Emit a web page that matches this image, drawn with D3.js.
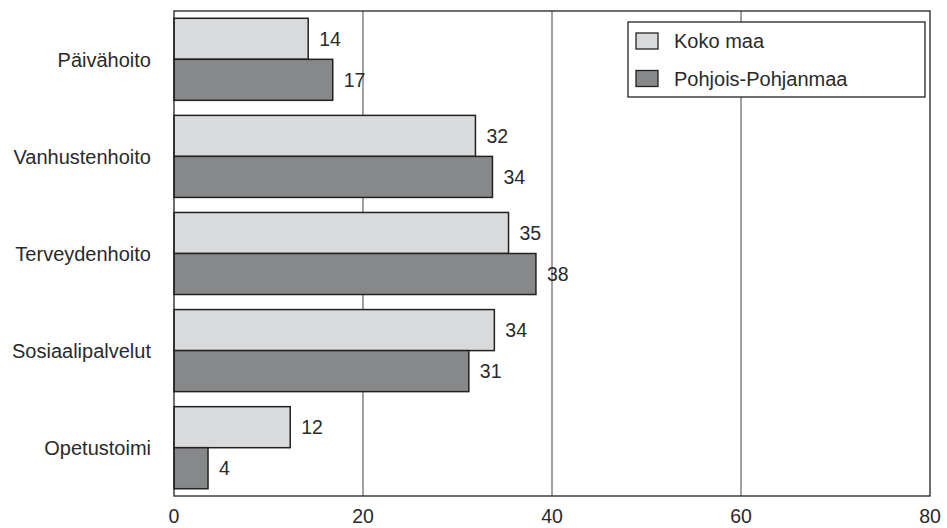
<!DOCTYPE html>
<html><head><meta charset="utf-8">
<script src="https://cdn.jsdelivr.net/npm/d3@7"></script>
<style>body{margin:0;background:#fff}svg{display:block;font-family:"Liberation Sans",Arial,sans-serif}</style>
</head><body>
<svg id="c" width="947" height="528"></svg>
<script>
const categories = ["Päivähoito","Vanhustenhoito","Terveydenhoito","Sosiaalipalvelut","Opetustoimi"];
const seriesNames = ["Koko maa","Pohjois-Pohjanmaa"];
const kokoMaa = [14.2,31.9,35.4,33.9,12.3];
const pohjois = [16.8,33.7,38.3,31.2,3.6];
const xTicks = [0,20,40,60,80];
const colors = ["#d9dadc","#87888a"];

const svg = d3.select("#c");
const m = {l:174, r:930, t:11, b:496};
const x = d3.scaleLinear().domain([0,80]).range([m.l,m.r]);
const y = d3.scaleBand().domain(categories).range([m.t,m.b]).paddingInner(0.155).paddingOuter(0.075);
const ys = d3.scaleBand().domain(seriesNames).range([0,y.bandwidth()]);

// grid
svg.append("g").selectAll("line").data(xTicks.filter(d=>d>0&&d<80)).join("line")
  .attr("x1",d=>x(d)).attr("x2",d=>x(d)).attr("y1",m.t).attr("y2",m.b)
  .attr("stroke","#444").attr("stroke-width",1);

const data = [];
categories.forEach((c,i)=>{
  data.push({c, s:seriesNames[0], v:kokoMaa[i], col:colors[0]});
  data.push({c, s:seriesNames[1], v:pohjois[i], col:colors[1]});
});

svg.append("g").selectAll("rect").data(data).join("rect")
  .attr("x",x(0)).attr("y",d=>y(d.c)+ys(d.s))
  .attr("width",d=>x(d.v)-x(0)).attr("height",ys.bandwidth())
  .attr("fill",d=>d.col).attr("stroke","#222").attr("stroke-width",1.5);

svg.append("g").selectAll("text").data(data).join("text")
  .attr("x",d=>x(d.v)+11).attr("y",d=>y(d.c)+ys(d.s)+ys.bandwidth()/2)
  .attr("dy","0.36em").attr("font-size",19.5).attr("fill","#2a2a2a")
  .text(d=>d3.format(".0f")(d.v));

// frame
svg.append("rect").attr("x",m.l).attr("y",m.t).attr("width",m.r-m.l).attr("height",m.b-m.t)
  .attr("fill","none").attr("stroke","#222").attr("stroke-width",1.3);

// x axis labels
svg.append("g").selectAll("text").data(xTicks).join("text")
  .attr("x",d=>x(d)).attr("y",523).attr("text-anchor","middle")
  .attr("font-size",19.5).attr("fill","#2a2a2a").text(d=>d);

// category labels
svg.append("g").selectAll("text").data(categories).join("text")
  .attr("x",151).attr("y",d=>y(d)+y.bandwidth()/2).attr("dy","0.36em")
  .attr("text-anchor","end").attr("font-size",20).attr("fill","#2a2a2a").text(d=>d);

// legend
const lg = svg.append("g");
lg.append("rect").attr("x",628).attr("y",22).attr("width",297).attr("height",75)
  .attr("fill","#fff").attr("stroke","#222").attr("stroke-width",1.3);
seriesNames.forEach((s,i)=>{
  lg.append("rect").attr("x",636).attr("y",33+i*37.5).attr("width",22).attr("height",16)
    .attr("fill",colors[i]).attr("stroke","#222").attr("stroke-width",1.3);
  lg.append("text").attr("x",674).attr("y",41+i*37.5).attr("dy","0.36em")
    .attr("font-size",20).attr("fill","#2a2a2a").text(s);
});
</script>
</body></html>
